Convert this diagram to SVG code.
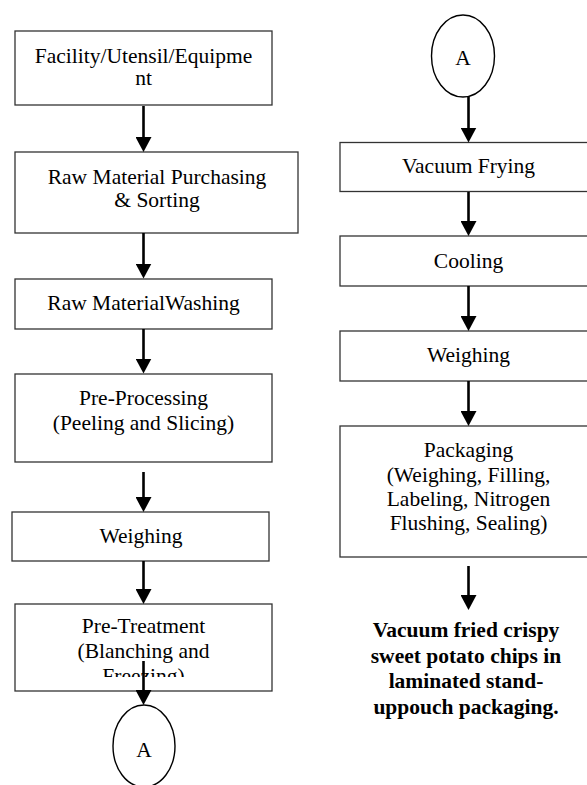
<svg xmlns="http://www.w3.org/2000/svg" width="587" height="785" viewBox="0 0 587 785">
<style>
.box{fill:#fff;stroke:#333;stroke-width:1.3}
.circ{fill:#fff;stroke:#000;stroke-width:1.4}
.t{font-family:'Liberation Serif','Times New Roman',Tinos,'DejaVu Serif',serif;font-size:21.5px;fill:#000;text-anchor:middle}
.b{font-weight:bold}
.arr{stroke:#000;stroke-width:2.6;fill:none;marker-end:url(#ah)}
</style>
<defs>
<marker id="ah" viewBox="0 0 15 16" refX="7" refY="8" markerWidth="15" markerHeight="16" markerUnits="userSpaceOnUse" orient="auto">
<path d="M0,0 L15,8 L0,16 Z" fill="#000"/>
</marker>
<clipPath id="clip6"><rect x="15" y="604" width="257" height="73"/></clipPath>
</defs>
<rect width="587" height="785" fill="#fff"/>
<g id="n1"><rect class="box" x="15" y="31" width="257" height="74"/><text class="t" x="143.5" y="63">Facility/Utensil/Equipme</text><text class="t" x="143.5" y="85">nt</text></g>
<g id="n2"><rect class="box" x="15" y="152" width="283" height="81"/><text class="t" x="157" y="184">Raw Material Purchasing</text><text class="t" x="157" y="207">&amp; Sorting</text></g>
<g id="n3"><rect class="box" x="15" y="279" width="257" height="50"/><text class="t" x="143.5" y="310">Raw MaterialWashing</text></g>
<g id="n4"><rect class="box" x="15" y="374" width="257" height="88"/><text class="t" x="143.5" y="405">Pre-Processing</text><text class="t" x="143.5" y="430">(Peeling and Slicing)</text></g>
<g id="n5"><rect class="box" x="12" y="512" width="257" height="49"/><text class="t" x="141" y="543">Weighing</text></g>
<g id="n6"><rect class="box" x="15" y="604" width="257" height="87"/><g clip-path="url(#clip6)"><text class="t" x="143.5" y="633">Pre-Treatment</text><text class="t" x="143.5" y="658">(Blanching and</text><text class="t" x="143.5" y="683">Freezing)</text></g></g>
<g id="cA1"><ellipse class="circ" cx="144" cy="746" rx="31" ry="41"/><text class="t" x="144" y="757">A</text></g>
<g id="cA2"><ellipse class="circ" cx="463" cy="56" rx="31.5" ry="41"/><text class="t" x="463" y="65">A</text></g>
<g id="r1"><rect class="box" x="340" y="142.5" width="262" height="49"/><text class="t" x="468.5" y="173">Vacuum Frying</text></g>
<g id="r2"><rect class="box" x="340" y="236" width="262" height="50"/><text class="t" x="468.5" y="268">Cooling</text></g>
<g id="r3"><rect class="box" x="340" y="331" width="262" height="50"/><text class="t" x="468.5" y="362">Weighing</text></g>
<g id="r4"><rect class="box" x="340" y="426" width="262" height="131"/><text class="t" x="468.5" y="457">Packaging</text><text class="t" x="468.5" y="482">(Weighing, Filling,</text><text class="t" x="468.5" y="506">Labeling, Nitrogen</text><text class="t" x="468.5" y="530">Flushing, Sealing)</text></g>
<g id="out"><text class="t b" x="466" y="637">Vacuum fried crispy</text><text class="t b" x="466" y="663">sweet potato chips in</text><text class="t b" x="466" y="688">laminated stand-</text><text class="t b" x="466" y="714">uppouch packaging.</text></g>
<g id="connectors">
<line class="arr" x1="143.5" y1="106" x2="143.5" y2="144"/>
<line class="arr" x1="143.5" y1="233" x2="143.5" y2="270.5"/>
<line class="arr" x1="143.5" y1="329" x2="143.5" y2="365.5"/>
<line class="arr" x1="143.5" y1="472" x2="143.5" y2="504"/>
<line class="arr" x1="143.5" y1="561" x2="143.5" y2="596"/>
<line class="arr" x1="143.5" y1="661" x2="143.5" y2="697"/>
<line class="arr" x1="468.5" y1="97" x2="468.5" y2="134.5"/>
<line class="arr" x1="468.5" y1="192" x2="468.5" y2="228"/>
<line class="arr" x1="468.5" y1="286" x2="468.5" y2="323"/>
<line class="arr" x1="468.5" y1="381" x2="468.5" y2="418"/>
<line class="arr" x1="468.5" y1="566" x2="468.5" y2="602"/>
</g>
</svg>
